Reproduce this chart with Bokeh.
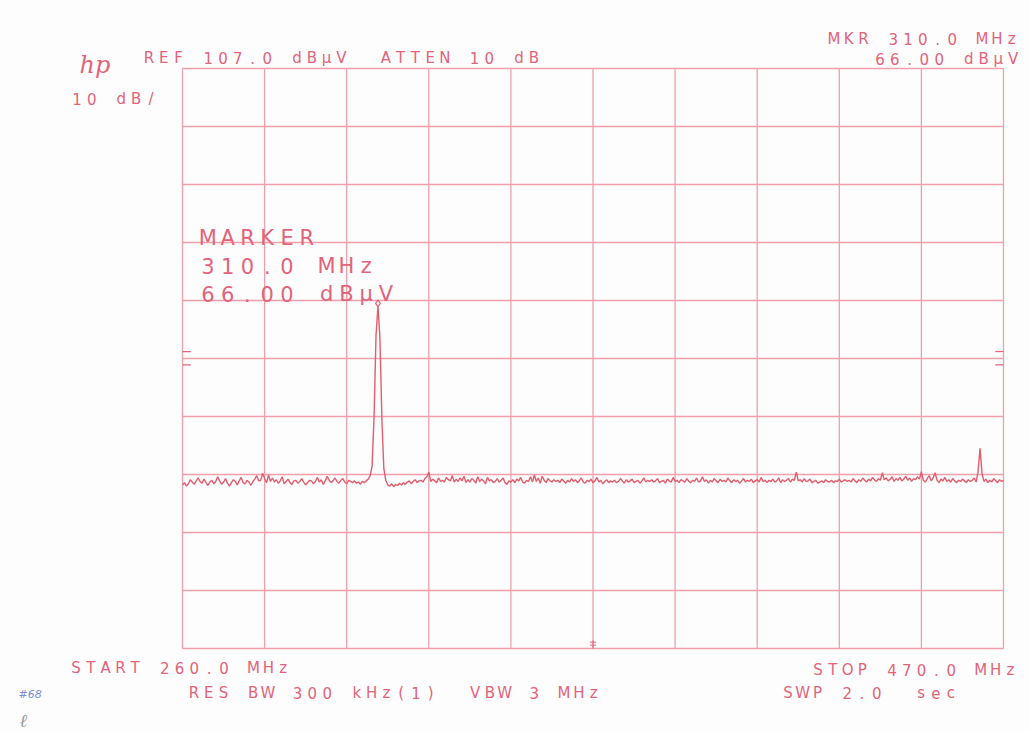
import numpy as np
from bokeh.plotting import figure
from bokeh.models import Range1d
from bokeh.core.properties import value
from bokeh.embed import file_html
from bokeh.resources import INLINE

# ---- analyzer settings ----
REF_LEVEL = 107.0      # dBuV, top graticule line
DB_PER_DIV = 10.0
N_DIV = 10
START_MHZ = 260.0
STOP_MHZ = 470.0

MARKER_MHZ = 310.0
MARKER_DBUV = 66.00

# ---- sweep trace, dBuV at 0.5 MHz steps from 260 to 470 MHz ----
trace_dbuv = [
    35.2, 35.6, 35.0, 35.4, 36.1, 35.7, 35.3, 35.9, 36.4, 35.8, 35.5, 36.2, 35.6, 35.1, 35.7, 36.0, 35.4, 35.8, 36.6, 35.9,
    35.3, 35.7, 36.3, 35.5, 35.0, 35.6, 36.1, 35.8, 35.2, 35.9, 36.5, 35.6, 35.4, 36.0, 35.7, 35.1, 35.8, 36.2, 36.8, 35.9,
    36.0, 37.2, 36.3, 35.6, 36.9, 35.8, 36.4, 35.7, 36.1, 35.5, 35.9, 36.6, 35.4, 35.8, 36.2, 35.6, 35.3, 35.9, 36.0, 35.5,
    35.8, 36.3, 35.7, 35.2, 35.6, 36.0, 35.9, 35.4, 35.8, 36.5, 35.7, 36.1, 35.3, 35.9, 36.7, 36.0, 35.6, 35.9, 36.4, 35.8,
    35.5, 36.0, 36.3, 35.7, 35.4, 36.0, 35.8, 35.6, 35.9, 35.5, 35.7, 35.3, 35.8, 35.6, 35.9, 36.2, 36.8, 38.5, 47.0, 61.0,
    66.0, 60.5, 46.5, 38.0, 36.0, 35.2, 35.0, 35.4, 34.9, 35.3, 35.1, 35.5, 35.2, 35.6, 35.3, 35.7, 35.9, 35.4, 35.8, 36.1,
    35.6, 35.9, 36.0, 35.7, 36.3, 36.6, 37.4, 35.8, 36.2, 35.9, 35.6, 36.4, 35.8, 36.0, 35.7, 36.5, 36.1, 35.9, 36.8, 35.7,
    36.2, 35.8, 36.4, 35.9, 36.7, 35.6, 36.1, 35.7, 36.3, 36.0, 35.5, 36.6, 35.8, 36.2, 35.9, 35.4, 36.5, 35.9, 36.1, 35.6,
    35.8, 36.3, 35.7, 36.0, 36.4, 35.6, 35.3, 35.9, 35.7, 36.1, 35.6, 36.2, 35.9, 36.5, 35.7, 35.5, 36.0, 35.8, 36.6, 35.7,
    36.9, 35.8, 36.4, 35.5, 36.7, 36.0, 35.6, 36.3, 35.9, 35.7, 36.1, 35.8, 36.0, 35.6, 36.2, 35.9, 35.5, 36.0, 35.7, 36.3,
    35.8, 36.1, 35.6, 35.9, 36.4, 35.7, 35.5, 36.0, 35.8, 36.2, 35.6, 35.9, 36.5, 35.7, 36.0, 35.4, 35.8, 36.1, 35.6, 35.9,
    35.7, 36.0, 35.6, 35.8, 36.3, 35.9, 35.5, 36.1, 35.7, 35.9, 36.2, 35.6, 35.8, 36.0, 35.5, 35.9, 36.4, 35.7, 36.0, 35.8,
    36.1, 35.7, 35.9, 36.3, 35.6, 35.8, 36.0, 35.5, 36.2, 35.9, 35.7, 36.5, 35.8, 36.0, 35.6, 36.1, 35.9, 35.7, 36.3, 35.8,
    35.6, 36.0, 35.8, 36.4, 35.7, 35.9, 36.6, 35.8, 36.1, 35.5, 36.0, 35.7, 36.3, 35.9, 35.6, 36.2, 35.8, 36.0, 35.7, 36.4,
    35.9, 35.6, 36.1, 35.8, 36.0, 35.5, 35.9, 36.3, 35.7, 36.0, 35.8, 36.2, 35.6, 35.9, 36.1, 35.7, 36.5, 35.8, 36.0, 35.6,
    36.0, 35.8, 36.2, 35.7, 35.9, 36.4, 35.6, 36.1, 35.8, 36.0, 36.3, 35.7, 36.2, 36.0, 37.4, 35.9, 36.1, 35.7, 36.3, 35.8,
    35.9, 36.2, 35.6, 35.8, 36.0, 35.5, 35.7, 35.9, 35.6, 36.1, 35.8, 35.7, 36.0, 35.6, 35.9, 35.8, 36.2, 35.7, 35.9, 36.1,
    35.8, 36.0, 35.7, 36.3, 35.9, 35.6, 36.1, 35.8, 36.4, 36.0, 35.7, 36.2, 35.9, 36.5, 36.1, 35.8, 36.3, 36.0, 37.3, 36.1,
    36.4, 35.9, 36.2, 36.6, 35.8, 36.3, 36.0, 36.5, 35.9, 36.2, 36.7, 36.0, 36.4, 35.8, 36.3, 36.1, 36.6, 36.2, 37.5, 36.0,
    35.7, 36.3, 36.8, 35.9, 36.4, 37.3, 36.0, 35.6, 36.2, 35.9, 36.5, 35.8, 36.1, 35.7, 36.3, 35.9, 35.6, 36.0, 35.8, 36.2,
    35.9, 35.6, 36.1, 35.8, 36.0, 36.4, 35.7, 37.5, 41.5, 37.2, 35.8, 36.2, 35.6, 36.0, 35.7, 36.3, 35.9, 35.6, 36.1, 35.8,
    36.0,
]

# ---- annotation strings ----
header_text = "REF 107.0 dB\u00b5V  ATTEN 10 dB"
scale_text = "10 dB/"
mkr_line1 = "MKR 310.0 MHz"
mkr_line2 = "66.00 dB\u00b5V"
marker_block = ["MARKER", "310.0 MHz", "66.00 dB\u00b5V"]
start_text = "START 260.0 MHz"
stop_text = "STOP 470.0 MHz"
bw_text = "RES BW 300 kHz(1)  VBW 3 MHz"
swp_text = "SWP 2.0  sec"

# ---- page geometry (pixels) ----
W, H = 1029, 731
GX0, GX1 = 182.0, 1003.0     # graticule left / right
GY0, GY1 = 68.0, 648.0       # graticule top / bottom

bottom_db = REF_LEVEL - N_DIV * DB_PER_DIV
mhz_per_px = (STOP_MHZ - START_MHZ) / (GX1 - GX0)
db_per_px = (REF_LEVEL - bottom_db) / (GY1 - GY0)


def fx(px):
    return START_MHZ + (px - GX0) * mhz_per_px


def fy(py):
    return REF_LEVEL - (py - GY0) * db_per_px


INK = "#e3637a"
GRID = "#f0a0aa"
TRACE = "#e35d6e"

p = figure(width=W, height=H,
           x_range=Range1d(fx(0), fx(W)), y_range=Range1d(fy(H), fy(0)),
           output_backend="svg", toolbar_location=None, min_border=0)
p.axis.visible = False
p.grid.visible = False
p.outline_line_color = None
p.background_fill_color = "#fdfdfd"
p.border_fill_color = "#fdfdfd"

# graticule
freq_lines = np.linspace(START_MHZ, STOP_MHZ, N_DIV + 1)
db_lines = np.linspace(bottom_db, REF_LEVEL, N_DIV + 1)
p.segment(x0=freq_lines, y0=bottom_db, x1=freq_lines, y1=REF_LEVEL,
          line_color=GRID, line_width=1.3)
p.segment(x0=START_MHZ, y0=db_lines, x1=STOP_MHZ, y1=db_lines,
          line_color=GRID, line_width=1.3)

# centre-line ticks on both sides of the graticule
mid_db = (REF_LEVEL + bottom_db) / 2
tick_len = 2.1
for side, d in ((START_MHZ, 1), (STOP_MHZ, -1)):
    p.segment(x0=[side, side], y0=[mid_db + 1.2, mid_db - 1.1],
              x1=[side + d * tick_len, side + d * tick_len], y1=[mid_db + 1.2, mid_db - 1.1],
              line_color=INK, line_width=1.2)

# centre-frequency tick at the bottom edge
cf = (START_MHZ + STOP_MHZ) / 2
p.segment(x0=[cf - 0.8, cf - 0.8, cf], y0=[bottom_db + 0.6, bottom_db + 1.1, bottom_db],
          x1=[cf + 0.8, cf + 0.8, cf], y1=[bottom_db + 0.6, bottom_db + 1.1, bottom_db + 1.4],
          line_color=INK, line_width=1.0)

# sweep trace
freqs = np.linspace(START_MHZ, STOP_MHZ, len(trace_dbuv))
p.line(freqs, trace_dbuv, line_color=TRACE, line_width=1.4)

# marker symbol on the peak
p.scatter([MARKER_MHZ], [MARKER_DBUV + 0.5], marker="diamond", size=7,
          fill_color=None, line_color=INK, line_width=1.2)


def plot_text(s, left_px, base_px, pitch, size, color=INK, glyph_w=None):
    """Lay out a string on a fixed character grid, as the analyzer plotter does."""
    if glyph_w is None:
        glyph_w = pitch * 0.74
    xs, ys, ts = [], [], []
    for i, ch in enumerate(s):
        if ch == " ":
            continue
        xs.append(fx(left_px + i * pitch + glyph_w / 2))
        ys.append(fy(base_px))
        ts.append(ch)
    p.text(x=xs, y=ys, text=ts, text_font=value("DejaVu Sans"),
           text_font_size=f"{size}px", text_align="center",
           text_baseline="alphabetic", text_color=color)


SMALL = 15
PITCH = 14.8

plot_text(header_text, 143, 57, PITCH, SMALL)
plot_text(scale_text, 71, 98, PITCH, SMALL)
plot_text(mkr_line1, 828, 38, PITCH, SMALL)
plot_text(mkr_line2, 874, 58, PITCH, SMALL)

for k, line in enumerate(marker_block):
    plot_text(line, 200, 237 + 28 * k, 19.8, 21)

plot_text(start_text, 70, 667, PITCH, SMALL)
plot_text(bw_text, 188, 692, PITCH, SMALL)
plot_text(stop_text, 812, 669, PITCH, SMALL)
plot_text(swp_text, 782, 692, PITCH, SMALL)

# plotter logo
p.text(x=[fx(79)], y=[fy(64)], text=["hp"], text_font=value("DejaVu Serif"),
       text_font_style="italic", text_font_size="24px", text_color=INK,
       text_align="left", text_baseline="alphabetic")

# pencilled notes in the margin
p.text(x=[fx(18)], y=[fy(694)], text=["#68"], text_font=value("DejaVu Sans"),
       text_font_style="italic", text_font_size="11px", text_color="#7d8cd6",
       text_align="left", text_baseline="alphabetic")
p.text(x=[fx(19)], y=[fy(720)], text=["\u2113"], text_font=value("DejaVu Serif"),
       text_font_style="italic", text_font_size="18px", text_color="#9a9a9a",
       text_align="left", text_baseline="alphabetic")

open("out.html", "w").write(file_html(p, INLINE))
